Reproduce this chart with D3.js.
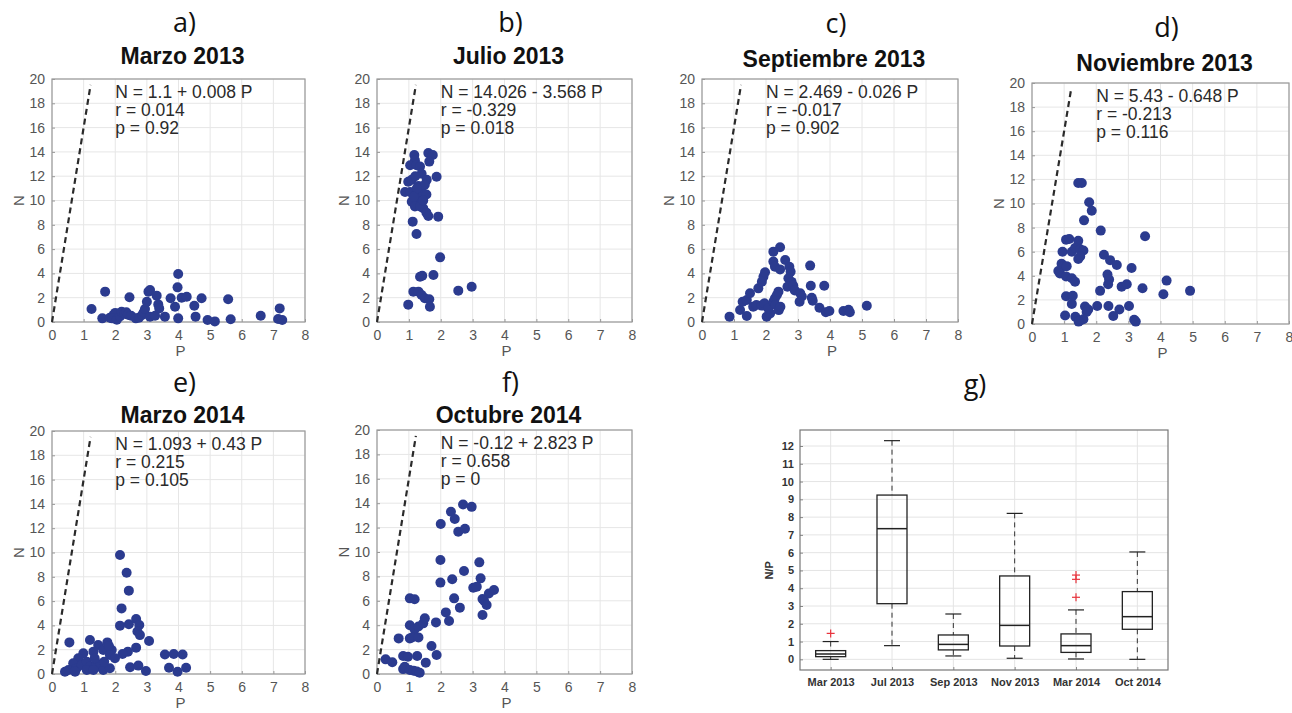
<!DOCTYPE html>
<html>
<head>
<meta charset="utf-8">
<script src="https://cdn.jsdelivr.net/npm/d3@7"></script>
<style>
  body { margin: 0; background: #fff; }
  svg { display: block; }
  .tick-label { font-family: "Liberation Sans", Arial, sans-serif; fill: #555; }
</style>
</head>
<body>
<div id="chart"></div>
<script>
// [P, N] pairs for each campaign
const marzo2013 = [[1.25,1.07],[1.68,2.5],[1.59,0.3],[1.83,0.35],[1.95,0.6],[2.0,0.75],[1.9,0.3],[2.05,0.18],[2.15,0.45],
  [2.2,0.85],[2.3,0.7],[2.35,0.8],[2.4,0.6],[2.45,2.03],[2.5,0.52],[2.65,0.3],[2.75,0.35],[2.85,0.58],[2.9,0.8],
  [2.94,1.07],[3.0,1.67],[3.05,2.5],[3.1,2.63],[3.1,0.44],[3.26,0.52],[3.31,2.17],[3.36,1.45],[3.39,1.12],[3.57,0.44],
  [3.75,1.95],[3.89,1.26],[3.99,3.95],[3.97,2.85],[3.99,0.3],[4.1,2.0],[4.26,2.08],[4.5,1.34],[4.54,0.44],[4.73,1.95],
  [4.92,0.16],[5.15,0.05],[5.57,1.87],[5.65,0.22],[6.6,0.52],[7.2,1.12],[7.15,0.25],[7.28,0.16]];
const julio2013 = [[1.17,13.74],[1.19,13.3],[1.61,13.9],[1.75,13.75],[1.64,13.2],[1.04,12.9],[1.24,12.9],[1.35,12.8],
  [1.4,12.2],[1.56,11.7],[1.87,11.96],[0.98,11.55],[1.09,11.7],[1.2,12.0],[1.3,11.2],[1.4,11.0],[1.5,11.3],[0.88,10.7],
  [1.04,10.7],[1.3,10.5],[1.55,10.5],[1.2,10.0],[1.09,9.9],[1.3,9.77],[1.4,9.9],[1.19,9.5],[1.45,9.36],[1.35,9.5],
  [1.55,9.0],[1.61,8.72],[1.92,8.67],[1.12,8.26],[1.24,7.24],[1.98,5.32],[1.35,3.73],[1.42,3.8],[1.77,3.87],[1.14,2.5],
  [1.3,2.5],[1.4,2.22],[1.5,1.95],[1.64,1.87],[1.66,1.26],[0.98,1.43],[2.55,2.58],[2.97,2.9],[1.25,11.0],[1.15,10.3],[1.45,10.0]];
const septiembre2013 = [[0.86,0.44],[1.19,0.99],[1.27,1.67],[1.4,1.81],[1.5,2.36],[1.4,0.5],[1.6,1.25],[1.7,1.4],[1.86,1.35],
  [1.95,1.55],[1.76,2.77],[1.87,3.32],[1.92,3.73],[1.97,4.09],[2.02,0.44],[2.13,0.71],[2.07,1.12],[2.23,1.67],[2.28,1.95],
  [2.34,2.22],[2.39,2.5],[2.3,1.4],[2.4,0.98],[2.45,1.25],[2.23,5.79],[2.44,6.15],[2.23,4.97],[2.28,4.55],[2.44,4.33],
  [2.6,5.1],[2.73,4.55],[2.77,4.14],[2.7,3.6],[2.8,3.3],[2.67,2.9],[2.85,3.0],[2.9,2.6],[3.07,2.36],[3.12,2.1],[3.05,1.67],
  [3.38,4.64],[3.4,2.99],[3.43,2.0],[3.46,1.75],[3.82,2.99],[3.67,1.18],[3.87,0.8],[3.98,0.9],[4.42,0.9],[4.58,1.0],
  [4.62,0.8],[5.15,1.34]];
const noviembre2013 = [[1.44,11.7],[1.55,11.7],[1.78,10.1],[1.86,9.4],[1.62,8.6],[2.14,7.75],[3.52,7.28],[1.06,7.0],
  [1.16,7.05],[1.44,6.9],[0.95,6.0],[1.24,6.0],[1.34,6.3],[1.5,6.2],[1.6,6.1],[1.44,5.4],[1.5,5.6],[2.24,5.75],[2.43,5.3],
  [2.64,4.9],[0.92,5.0],[0.98,4.8],[0.82,4.4],[0.87,4.2],[1.08,4.8],[1.06,3.95],[1.24,3.8],[1.34,3.5],[2.35,4.1],[2.4,3.7],
  [2.37,3.3],[3.1,4.64],[2.79,3.1],[2.95,3.3],[2.12,2.75],[3.44,2.97],[4.19,3.6],[4.09,2.47],[4.92,2.75],[1.06,2.3],
  [1.27,2.35],[1.24,1.67],[1.65,1.45],[1.75,1.2],[1.7,1.0],[2.03,1.5],[2.38,1.5],[2.72,1.2],[3.02,1.5],[1.03,0.7],
  [1.35,0.6],[1.5,0.3],[1.6,0.4],[1.45,0.2],[2.53,0.67],[3.18,0.35],[3.23,0.2]];
const marzo2014 = [[2.15,9.8],[2.36,8.34],[2.43,6.86],[2.2,5.4],[2.15,3.98],[2.43,4.09],[2.66,4.53],[2.76,4.03],[2.7,3.5],
  [2.78,3.2],[3.07,2.72],[2.66,2.17],[2.4,1.84],[2.23,1.65],[0.55,2.6],[1.2,2.8],[1.46,2.39],[1.75,2.6],[1.62,1.98],
  [1.89,1.98],[1.83,1.56],[1.99,1.29],[1.31,1.84],[0.99,1.7],[0.83,1.29],[0.67,0.88],[0.52,0.33],[0.41,0.19],[0.78,0.47],
  [0.94,0.74],[1.1,1.0],[1.2,0.6],[1.41,0.88],[1.52,0.6],[1.62,0.33],[1.83,0.47],[1.1,0.33],[1.31,0.33],[0.73,0.19],
  [1.8,2.3],[1.65,1.0],[1.35,1.3],[2.47,0.55],[2.73,0.69],[2.97,0.25],[3.57,1.6],[3.85,1.65],[4.13,1.6],[3.7,0.52],
  [3.97,0.19],[4.24,0.52]];
const octubre2014 = [[0.27,1.2],[0.48,0.96],[0.68,2.92],[0.82,1.48],[0.97,1.42],[0.82,0.4],[0.87,0.6],[1.03,0.33],
  [1.03,6.2],[1.18,6.12],[1.03,4.0],[1.03,2.92],[1.18,3.66],[1.3,3.9],[1.45,4.15],[1.1,3.0],[1.3,3.0],[1.26,1.48],
  [1.15,0.27],[1.25,0.2],[1.34,0.1],[1.53,0.93],[1.5,4.56],[1.71,2.3],[1.87,1.56],[1.85,4.23],[2.0,12.3],[1.99,9.34],
  [1.99,7.49],[2.16,5.05],[2.26,4.34],[2.32,13.3],[2.44,12.7],[2.36,7.76],[2.42,6.2],[2.55,11.67],[2.76,11.9],[2.7,13.9],
  [2.97,13.7],[2.6,5.44],[2.73,8.44],[3.21,9.15],[3.25,7.84],[3.02,7.07],[3.13,7.16],[3.31,6.15],[3.36,6.0],[3.31,4.84],
  [3.44,5.66],[3.51,6.6],[3.67,6.88]];

const panelData = [marzo2013, julio2013, septiembre2013, noviembre2013, marzo2014, octubre2014];
const panelLetters = ["a)", "b)", "c)", "d)", "e)", "f)"];
const panelTitles = ["Marzo 2013", "Julio 2013", "Septiembre 2013", "Noviembre 2013", "Marzo 2014", "Octubre 2014"];
const panelStats = [
  ["N = 1.1 + 0.008 P", "r = 0.014", "p = 0.92"],
  ["N = 14.026 - 3.568 P", "r = -0.329", "p = 0.018"],
  ["N = 2.469 - 0.026 P", "r = -0.017", "p = 0.902"],
  ["N = 5.43 - 0.648 P", "r = -0.213", "p = 0.116"],
  ["N = 1.093 + 0.43 P", "r = 0.215", "p = 0.105"],
  ["N = -0.12 + 2.823 P", "r = 0.658", "p = 0"]
];
const pTicks = [0, 1, 2, 3, 4, 5, 6, 7, 8];
const nTicks = [0, 2, 4, 6, 8, 10, 12, 14, 16, 18, 20];
const redfieldP = [0, 1.22];   // N = 16 P reference line
const redfieldRatio = 16;

// N/P boxplot (g)
const boxLabels = ["Mar 2013", "Jul 2013", "Sep 2013", "Nov 2013", "Mar 2014", "Oct 2014"];
const boxLow = [0.0, 0.77, 0.19, 0.06, 0.02, 0.0];
const boxQ1 = [0.15, 3.13, 0.53, 0.75, 0.39, 1.69];
const boxMedian = [0.3, 7.35, 0.84, 1.91, 0.77, 2.4];
const boxQ3 = [0.49, 9.24, 1.37, 4.69, 1.43, 3.81];
const boxHigh = [1.0, 12.3, 2.55, 8.21, 2.78, 6.04];
const boxOutliers = [[1.46], [], [], [], [3.49, 4.5, 4.74], []];
const npTicks = [0, 1, 2, 3, 4, 5, 6, 7, 8, 9, 10, 11, 12];

const W = 1292, H = 713;
const dotColor = "#2b3b8f";

const svg = d3.select("#chart").append("svg")
  .attr("width", W).attr("height", H);

// pixel frames of each scatter axes
const frames = [
  { left: 52,   right: 305,  top: 79,  bottom: 322, letterY: 32,  titleY: 64 },
  { left: 377,  right: 632,  top: 79,  bottom: 322, letterY: 32,  titleY: 64 },
  { left: 702,  right: 958,  top: 79,  bottom: 322, letterY: 33,  titleY: 67 },
  { left: 1032, right: 1289, top: 83,  bottom: 324, letterY: 37,  titleY: 71 },
  { left: 52,   right: 305,  top: 431, bottom: 674, letterY: 392, titleY: 423 },
  { left: 377,  right: 632,  top: 430, bottom: 674, letterY: 392, titleY: 423 }
];

frames.forEach((f, i) => drawScatter(f, i));
drawBoxplot();

function drawScatter (f, i) {
  const x = d3.scaleLinear().domain([0, 8]).range([f.left, f.right]);
  const y = d3.scaleLinear().domain([0, 20]).range([f.bottom, f.top]);
  const g = svg.append("g");
  const cx = (f.left + f.right) / 2;

  // grid
  g.selectAll(".gx").data(pTicks).enter().append("line")
    .attr("x1", d => x(d)).attr("x2", d => x(d))
    .attr("y1", f.top).attr("y2", f.bottom)
    .attr("stroke", "#e6e6e6").attr("stroke-width", 1);
  g.selectAll(".gy").data(nTicks).enter().append("line")
    .attr("x1", f.left).attr("x2", f.right)
    .attr("y1", d => y(d)).attr("y2", d => y(d))
    .attr("stroke", "#e6e6e6").attr("stroke-width", 1);

  // axes, ticks inward like matlab
  const ax = g.append("g").attr("transform", `translate(0,${f.bottom})`)
    .call(d3.axisBottom(x).tickValues(pTicks).tickSizeInner(-3).tickSizeOuter(0).tickPadding(8));
  const ay = g.append("g").attr("transform", `translate(${f.left},0)`)
    .call(d3.axisLeft(y).tickValues(nTicks).tickSizeInner(-3).tickSizeOuter(0).tickPadding(7));
  [ax, ay].forEach(a => {
    a.select(".domain").remove();
    a.selectAll("line").attr("stroke", "#999");
    a.selectAll("text").attr("class", "tick-label").style("font-size", "14px");
  });

  g.append("rect")
    .attr("x", f.left).attr("y", f.top)
    .attr("width", f.right - f.left).attr("height", f.bottom - f.top)
    .attr("fill", "none").attr("stroke", "#9a9a9a").attr("stroke-width", 1.2);

  // redfield line
  g.append("line")
    .attr("x1", x(redfieldP[0])).attr("y1", y(redfieldP[0] * redfieldRatio))
    .attr("x2", x(redfieldP[1])).attr("y2", y(redfieldP[1] * redfieldRatio))
    .attr("stroke", "#2a2a2a").attr("stroke-width", 2.2)
    .attr("stroke-dasharray", "6,4");

  g.selectAll(".dot").data(panelData[i]).enter().append("circle")
    .attr("cx", d => x(d[0])).attr("cy", d => y(d[1]))
    .attr("r", 5)
    .attr("fill", dotColor);

  // regression text
  g.selectAll(".stat").data(panelStats[i]).enter().append("text")
    .attr("x", x(2))
    .attr("y", (d, k) => f.top + 19 + k * 18)
    .text(d => d)
    .style("font-family", "'Liberation Sans', Arial, sans-serif")
    .style("font-size", "17.5px")
    .style("fill", "#2a2a2a");

  g.append("text")
    .attr("x", cx + 4).attr("y", f.titleY)
    .attr("text-anchor", "middle")
    .text(panelTitles[i])
    .style("font-family", "'Liberation Sans', Arial, sans-serif")
    .style("font-weight", "bold").style("font-size", "23px").style("fill", "#111");

  g.append("text")
    .attr("x", cx + 6).attr("y", f.letterY)
    .attr("text-anchor", "middle")
    .text(panelLetters[i])
    .style("font-family", "'Open Sans', sans-serif")
    .style("font-size", "27px").style("fill", "#111");

  g.append("text")
    .attr("x", cx + 2).attr("y", f.bottom + 34)
    .attr("text-anchor", "middle")
    .text("P")
    .attr("class", "tick-label").style("font-size", "15px");

  g.append("text")
    .attr("transform", `translate(${f.left - 28},${(f.top + f.bottom) / 2}) rotate(-90)`)
    .attr("text-anchor", "middle")
    .text("N")
    .attr("class", "tick-label").style("font-size", "15px");
}

function drawBoxplot () {
  const f = { left: 800, right: 1168, top: 430, bottom: 670 };
  const x = d3.scalePoint().domain(boxLabels).range([f.left, f.right]).padding(0.5);
  const y = d3.scaleLinear().domain([-0.6, 12.9]).range([f.bottom, f.top]);
  const g = svg.append("g");
  const font = "'Liberation Sans', Arial, sans-serif";

  g.selectAll(".gx").data(boxLabels).enter().append("line")
    .attr("x1", d => x(d)).attr("x2", d => x(d))
    .attr("y1", f.top).attr("y2", f.bottom)
    .attr("stroke", "#e4e4e4");
  g.selectAll(".gy").data(npTicks).enter().append("line")
    .attr("x1", f.left).attr("x2", f.right)
    .attr("y1", d => y(d)).attr("y2", d => y(d))
    .attr("stroke", "#e4e4e4");

  const ax = g.append("g").attr("transform", `translate(0,${f.bottom})`)
    .call(d3.axisBottom(x).tickSizeInner(-3).tickSizeOuter(0).tickPadding(8));
  const ay = g.append("g").attr("transform", `translate(${f.left},0)`)
    .call(d3.axisLeft(y).tickValues(npTicks).tickSizeInner(-3).tickSizeOuter(0).tickPadding(6));
  [ax, ay].forEach(a => {
    a.select(".domain").remove();
    a.selectAll("line").attr("stroke", "#888");
    a.selectAll("text")
      .style("font-family", font).style("font-weight", "bold")
      .style("font-size", "11px").style("fill", "#333");
  });

  g.append("rect")
    .attr("x", f.left).attr("y", f.top)
    .attr("width", f.right - f.left).attr("height", f.bottom - f.top)
    .attr("fill", "none").attr("stroke", "#777").attr("stroke-width", 1.2);

  const half = 15, cap = 8;
  const boxes = g.selectAll(".box").data(boxLabels).enter().append("g");

  // whiskers
  boxes.append("line")
    .attr("x1", d => x(d)).attr("x2", d => x(d))
    .attr("y1", (d, i) => y(boxHigh[i])).attr("y2", (d, i) => y(boxQ3[i]))
    .attr("stroke", "#333").attr("stroke-dasharray", "5,4");
  boxes.append("line")
    .attr("x1", d => x(d)).attr("x2", d => x(d))
    .attr("y1", (d, i) => y(boxQ1[i])).attr("y2", (d, i) => y(boxLow[i]))
    .attr("stroke", "#333").attr("stroke-dasharray", "5,4");
  boxes.append("line")
    .attr("x1", d => x(d) - cap).attr("x2", d => x(d) + cap)
    .attr("y1", (d, i) => y(boxHigh[i])).attr("y2", (d, i) => y(boxHigh[i]))
    .attr("stroke", "#222").attr("stroke-width", 1.2);
  boxes.append("line")
    .attr("x1", d => x(d) - cap).attr("x2", d => x(d) + cap)
    .attr("y1", (d, i) => y(boxLow[i])).attr("y2", (d, i) => y(boxLow[i]))
    .attr("stroke", "#222").attr("stroke-width", 1.2);

  boxes.append("rect")
    .attr("x", d => x(d) - half).attr("width", half * 2)
    .attr("y", (d, i) => y(boxQ3[i]))
    .attr("height", (d, i) => y(boxQ1[i]) - y(boxQ3[i]))
    .attr("fill", "none").attr("stroke", "#222").attr("stroke-width", 1.3);
  boxes.append("line")
    .attr("x1", d => x(d) - half).attr("x2", d => x(d) + half)
    .attr("y1", (d, i) => y(boxMedian[i])).attr("y2", (d, i) => y(boxMedian[i]))
    .attr("stroke", "#222").attr("stroke-width", 1.5);

  // outliers as red plus signs
  const outs = [];
  boxLabels.forEach((lab, i) => boxOutliers[i].forEach(v => outs.push([lab, v])));
  const plus = g.selectAll(".out").data(outs).enter().append("g")
    .attr("transform", d => `translate(${x(d[0])},${y(d[1])})`);
  plus.append("line").attr("x1", -4).attr("x2", 4).attr("stroke", "#e8333c").attr("stroke-width", 1.2);
  plus.append("line").attr("y1", -4).attr("y2", 4).attr("stroke", "#e8333c").attr("stroke-width", 1.2);

  g.append("text")
    .attr("transform", `translate(${f.left - 27},${y(5)}) rotate(-90)`)
    .attr("text-anchor", "middle")
    .text("N/P")
    .style("font-family", font).style("font-weight", "bold")
    .style("font-size", "11px").style("fill", "#333");

  g.append("text")
    .attr("x", 975).attr("y", 394)
    .attr("text-anchor", "middle")
    .text("g)")
    .style("font-family", "'Open Sans', sans-serif")
    .style("font-size", "27px").style("fill", "#111");
}
</script>
</body>
</html>
